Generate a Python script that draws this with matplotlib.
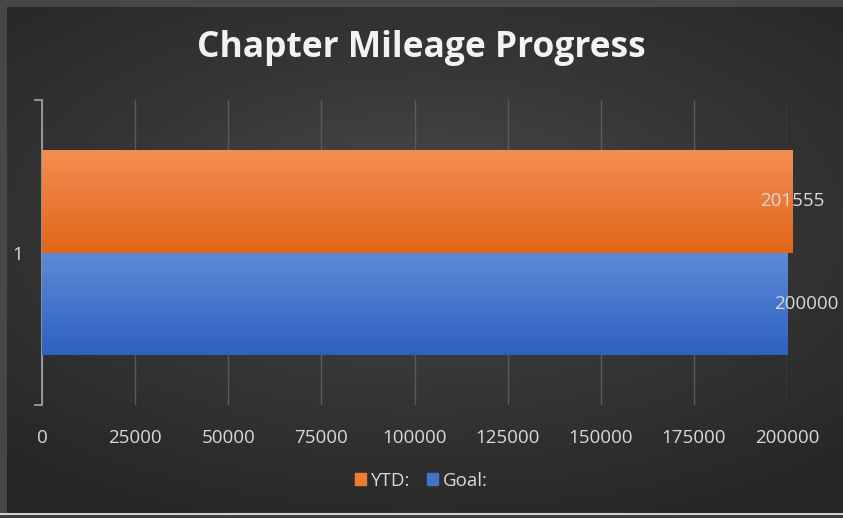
import numpy as np
import matplotlib.pyplot as plt
from matplotlib.patches import Rectangle
from matplotlib.colors import LinearSegmentedColormap

title = "Chapter Mileage Progress"
category = ["1"]
series = ["YTD:", "Goal:"]
values = [201555, 200000]
colors_top = ["#f28e52", "#5e8ad6"]
colors_bot = ["#e2661a", "#2e62c2"]
legend_colors = ["#ED7D31", "#4472C4"]
xticks = [0, 25000, 50000, 75000, 100000, 125000, 150000, 175000, 200000]

plt.rcParams['font.family'] = ['Open Sans', 'DejaVu Sans']
txt = "#d9d9d9"
fs = 13.5

fig = plt.figure(figsize=(8.43, 5.18), dpi=100)
fig.patch.set_facecolor("#474747")

# background with radial gradient
bg = fig.add_axes([7/843, 1 - 513/518, 836/843, 506/518])
bg.set_axis_off()
yy, xx = np.mgrid[-1:1:300j, -1:1:500j]
r = np.sqrt((xx * 0.85) ** 2 + (yy + 0.15) ** 2)
bgmap = LinearSegmentedColormap.from_list("bg", ["#4b4b4b", "#363636", "#262626"])
bg.imshow(r, cmap=bgmap, vmin=0, vmax=1.3, aspect="auto", extent=[0, 1, 0, 1])
bg.set_xlim(0, 1)
bg.set_ylim(0, 1)
# white line at bottom
fig.add_artist(plt.Line2D([0, 1], [1 - 514/518, 1 - 514/518], color="#d0d0d0",
                          lw=1.5, transform=fig.transFigure))
fig.add_artist(Rectangle((0, 0), 1, 1 - 515/518, color="#3c3c3c",
                         transform=fig.transFigure))

ax = fig.add_axes([42/843, 1 - 405/518, 745/843, 305/518])
ax.patch.set_alpha(0)

h = 0.336
ypos = [1 + h / 2, 1 - h / 2]
for i in range(len(series)):
    b = ax.barh(ypos[i], values[i], height=h, color=legend_colors[i],
                label=series[i], zorder=3)[0]
    grad = np.linspace(0, 1, 100).reshape(-1, 1)
    cm = LinearSegmentedColormap.from_list("g", [colors_top[i], colors_bot[i]])
    im = ax.imshow(grad, cmap=cm, aspect="auto", zorder=4,
                   extent=[0, values[i], ypos[i] - h / 2, ypos[i] + h / 2])
    im.set_clip_path(b)

ax.annotate(str(values[0]), (values[0], ypos[0]), xytext=(0, 0),
            textcoords="offset points", color=txt, fontsize=fs,
            ha="center", va="center", zorder=6, annotation_clip=False)
ax.annotate(str(values[1]), (values[1], ypos[1]), xytext=(14, 0),
            textcoords="offset points", color=txt, fontsize=fs,
            ha="center", va="center", zorder=6, annotation_clip=False)

ax.set_xlim(0, 200000)
ax.set_ylim(0.5, 1.5)
ax.set_xticks(xticks)
ax.set_xticklabels([str(t) for t in xticks], color=txt, fontsize=fs)
ax.tick_params(axis="x", length=0, pad=17)
ax.set_yticks([1])
ax.set_yticklabels(category, color=txt, fontsize=fs)
ax.tick_params(axis="y", length=0, pad=14)
ax.set_yticks([0.5, 1.5], minor=True)
ax.tick_params(axis="y", which="minor", length=6, color="#a6a6a6", width=1.2)
ax.grid(axis="x", color="#5a5a5a", lw=1, zorder=0)
for s in ["top", "right", "bottom"]:
    ax.spines[s].set_visible(False)
ax.spines["left"].set_color("#a6a6a6")
ax.spines["left"].set_linewidth(1.2)

fig.text(0.5, 1 - 48/518, title, ha="center", va="center", color="#f2f2f2",
         fontsize=25.5, fontweight="bold")

handles = [Rectangle((0, 0), 1, 1, color=c) for c in legend_colors]
fig.legend(handles, series, loc="center", bbox_to_anchor=(0.5, 1 - 481/518),
           ncol=2, frameon=False, fontsize=fs, labelcolor=txt,
           handlelength=0.6, handleheight=0.6, handletextpad=0.25,
           columnspacing=0.9)

fig.savefig("out.png", dpi=100, facecolor=fig.get_facecolor())
